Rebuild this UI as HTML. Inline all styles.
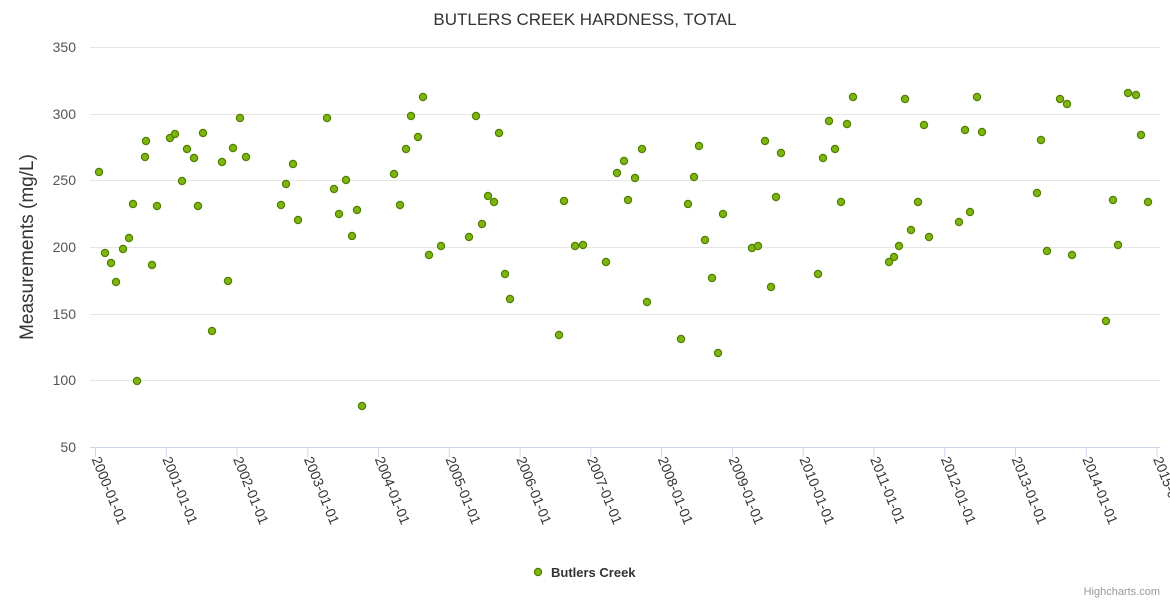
<!DOCTYPE html>
<html><head><meta charset="utf-8"><style>body{margin:0;background:#fff}svg{display:block;font-family:"Liberation Sans",sans-serif}</style></head><body>
<svg width="1170" height="600" xmlns="http://www.w3.org/2000/svg">
<text x="585" y="25" text-anchor="middle" font-size="17" fill="#333">BUTLERS CREEK HARDNESS, TOTAL</text>
<g stroke="#e6e6e6" stroke-width="1">
<line x1="90" x2="1160" y1="47.5" y2="47.5"/><line x1="90" x2="1160" y1="114.5" y2="114.5"/><line x1="90" x2="1160" y1="180.5" y2="180.5"/><line x1="90" x2="1160" y1="247.5" y2="247.5"/><line x1="90" x2="1160" y1="314.5" y2="314.5"/><line x1="90" x2="1160" y1="380.5" y2="380.5"/>
</g>
<line x1="90" x2="1160" y1="447.5" y2="447.5" stroke="#ccd6eb"/>
<g font-size="14" fill="#555" text-anchor="end">
<text x="76" y="52">350</text><text x="76" y="119">300</text><text x="76" y="185">250</text><text x="76" y="252">200</text><text x="76" y="319">150</text><text x="76" y="385">100</text><text x="76" y="452">50</text>
</g>
<text transform="translate(33,247) rotate(-90)" text-anchor="middle" font-size="19" fill="#333">Measurements (mg/L)</text>
<g id="ticks" stroke="#ccd6eb"></g>
<g id="xl" font-size="14" fill="#333"></g>
<g id="pts" fill="#7fb510" stroke="#4f7f00" stroke-width="1.2"></g>
<circle cx="538" cy="572" r="3.6" fill="#7fb510" stroke="#4f7f00" stroke-width="1.2"/>
<text x="551" y="577" font-size="13" font-weight="bold" fill="#333">Butlers Creek</text>
<text x="1160" y="595" text-anchor="end" font-size="11" fill="#999">Highcharts.com</text>
<script>
var ns="http://www.w3.org/2000/svg";
var t=document.getElementById('ticks'),xl=document.getElementById('xl');
for(var i=0;i<=15;i++){var x=95.5+i*70.77;
var l=document.createElementNS(ns,'line');l.setAttribute('x1',x);l.setAttribute('x2',x);l.setAttribute('y1',447);l.setAttribute('y2',457);t.appendChild(l);
var tx=document.createElementNS(ns,'text');tx.setAttribute('transform','translate('+(x-4)+',459) rotate(68)');tx.textContent=(2000+i)+'-01-01';xl.appendChild(tx);}
var P=[[99,172],[105,253],[111,263],[116,282],[123,249],[129,238],[133,204],[137,381],[145,157],[146,141],[152,265],[157,206],[170,138],[175,134],[182,181],[187,149],[194,158],[198,206],[203,133],[212,331],[222,162],[228,281],[233,148],[240,118],[246,157],[281,205],[286,184],[293,164],[298,220],[327,118],[334,189],[339,214],[346,180],[352,236],[357,210],[362,406],[394,174],[400,205],[406,149],[411,116],[418,137],[423,97],[429,255],[441,246],[469,237],[476,116],[482,224],[488,196],[494,202],[499,133],[505,274],[510,299],[559,335],[564,201],[575,246],[583,245],[606,262],[617,173],[624,161],[628,200],[635,178],[642,149],[647,302],[681,339],[688,204],[694,177],[699,146],[705,240],[712,278],[718,353],[723,214],[752,248],[758,246],[765,141],[771,287],[776,197],[781,153],[818,274],[823,158],[829,121],[835,149],[841,202],[847,124],[853,97],[889,262],[894,257],[899,246],[905,99],[911,230],[918,202],[924,125],[929,237],[959,222],[965,130],[970,212],[977,97],[982,132],[1037,193],[1041,140],[1047,251],[1060,99],[1067,104],[1072,255],[1106,321],[1113,200],[1118,245],[1128,93],[1136,95],[1141,135],[1148,202]];
var g=document.getElementById('pts');
P.forEach(function(p){var c=document.createElementNS(ns,'circle');c.setAttribute('cx',p[0]);c.setAttribute('cy',p[1]);c.setAttribute('r',3.6);g.appendChild(c);});
</script>
</svg>
</body></html>
